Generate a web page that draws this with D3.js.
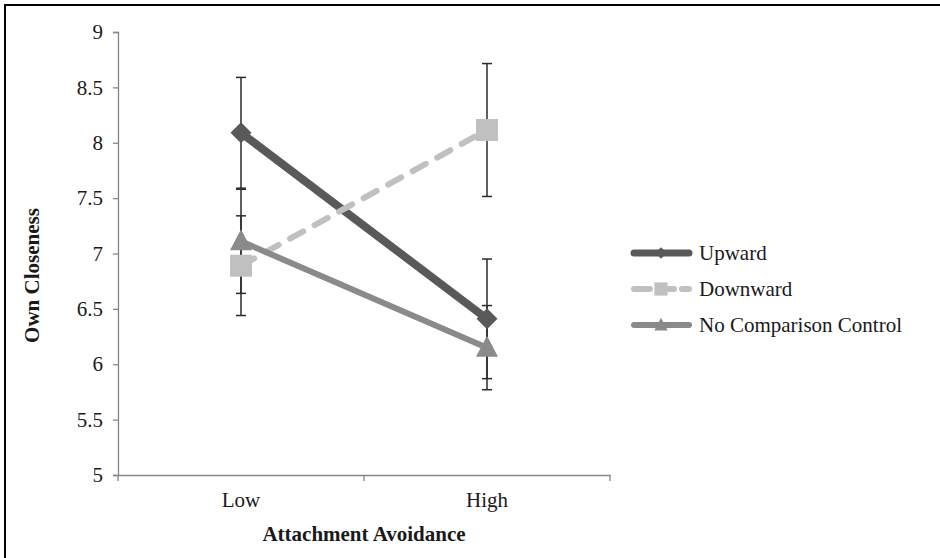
<!DOCTYPE html>
<html>
<head>
<meta charset="utf-8">
<script src="https://cdn.jsdelivr.net/npm/d3@7"></script>
<style>
  body { margin: 0; background: #fff; }
  svg { display: block; }
  svg text { font-family: "Liberation Serif", "Times New Roman", Times, "DejaVu Serif", serif !important; fill: #1a1a1a; }
</style>
</head>
<body>
<svg id="chart" width="940" height="558"></svg>
<script>
// ---- data ----
const categories = ["Low", "High"];
const seriesNames = ["Upward", "Downward", "No Comparison Control"];
const upwardValues = [8.09, 6.41];
const downwardValues = [6.89, 8.115];
const controlValues = [7.11, 6.15];
const upwardErrors = [0.50, 0.54];
const downwardErrors = [0.45, 0.60];
const controlErrors = [0.47, 0.38];
const yTicks = [5, 5.5, 6, 6.5, 7, 7.5, 8, 8.5, 9];
const yTitle = "Own Closeness";
const xTitle = "Attachment Avoidance";

const series = [
  { name: seriesNames[0], values: upwardValues, errors: upwardErrors, color: "#595959", width: 8, dash: null, marker: "diamond" },
  { name: seriesNames[1], values: downwardValues, errors: downwardErrors, color: "#c0c0c0", width: 6, dash: "15,13", marker: "square" },
  { name: seriesNames[2], values: controlValues, errors: controlErrors, color: "#8a8a8a", width: 6, dash: null, marker: "triangle" }
];

const FONT = 21;
const svg = d3.select("#chart");
// frame
svg.append("rect").attr("x", 5).attr("y", 5).attr("width", 940).attr("height", 560)
  .attr("fill", "none").attr("stroke", "#000").attr("stroke-width", 2);

const mLeft = 118, mRight = 610, mTop = 32, mBottom = 475;
const x = d3.scaleBand().domain(categories).range([mLeft, mRight]).padding(0);
const y = d3.scaleLinear().domain([5, 9]).range([mBottom, mTop]);
const cx = c => x(c) + x.bandwidth() / 2;

// y axis
const yAxis = svg.append("g").attr("transform", `translate(${mLeft},0)`)
  .call(d3.axisLeft(y).tickValues(yTicks).tickSize(5).tickPadding(10).tickFormat(d3.format("")));
yAxis.attr("font-family", null).attr("font-size", FONT);
yAxis.select(".domain").attr("stroke", "#868686").attr("stroke-width", 1.3);
yAxis.selectAll(".tick line").attr("stroke", "#868686").attr("stroke-width", 1.3);
yAxis.selectAll("text").attr("fill", "#1a1a1a");

// x axis
const xAxis = svg.append("g").attr("transform", `translate(0,${mBottom})`)
  .call(d3.axisBottom(x).tickSize(0).tickPadding(17));
xAxis.attr("font-family", null).attr("font-size", FONT);
xAxis.select(".domain").attr("stroke", "#868686").attr("stroke-width", 1.3);
xAxis.selectAll("text").attr("fill", "#1a1a1a");
// band boundary ticks
const bounds = [mLeft, x("High"), mRight];
xAxis.selectAll(".bt").data(bounds).enter().append("line")
  .attr("x1", d => d).attr("x2", d => d).attr("y1", 0).attr("y2", 6)
  .attr("stroke", "#868686").attr("stroke-width", 1.3);

// titles
svg.append("text").attr("x", (mLeft + mRight) / 2).attr("y", 541).attr("text-anchor", "middle")
  .attr("font-size", FONT).attr("font-weight", "bold").text(xTitle);
svg.append("text").attr("transform", `translate(39,${(mTop + mBottom) / 2 + 22}) rotate(-90)`)
  .attr("text-anchor", "middle").attr("font-size", FONT).attr("font-weight", "bold").text(yTitle);

// error bars
series.forEach(s => {
  const g = svg.append("g");
  categories.forEach((c, i) => {
    const v = s.values[i], e = s.errors[i], px = cx(c);
    g.append("line").attr("x1", px).attr("x2", px).attr("y1", y(v + e)).attr("y2", y(v - e))
      .attr("stroke", "#2b2b2b").attr("stroke-width", 1.5);
    [v + e, v - e].forEach(t => {
      g.append("line").attr("x1", px - 5).attr("x2", px + 5).attr("y1", y(t)).attr("y2", y(t))
        .attr("stroke", "#2b2b2b").attr("stroke-width", 1.5);
    });
  });
});

function markerPath(type) {
  if (type === "diamond") return "M0,-10.5L10.5,0L0,10.5L-10.5,0Z";
  if (type === "square") return "M-11,-11H11V11H-11Z";
  return "M0,-12L11,9L-11,9Z";
}

const line = d3.line().x((d, i) => cx(categories[i])).y(d => y(d));
series.forEach(s => {
  svg.append("path").datum(s.values).attr("d", line)
    .attr("fill", "none").attr("stroke", s.color).attr("stroke-width", s.width)
    .attr("stroke-linecap", s.dash ? "round" : "butt")
    .attr("stroke-dasharray", s.dash);
  s.values.forEach((v, i) => {
    svg.append("path").attr("d", markerPath(s.marker))
      .attr("transform", `translate(${cx(categories[i])},${y(v)})`)
      .attr("fill", s.color);
  });
});

// legend
const lg = svg.append("g");
series.forEach((s, i) => {
  const ly = 253 + i * 36;
  lg.append("line").attr("x1", 634).attr("x2", 689).attr("y1", ly).attr("y2", ly)
    .attr("stroke", s.color).attr("stroke-width", s.marker === "diamond" ? 7 : 6)
    .attr("stroke-linecap", "round")
    .attr("stroke-dasharray", s.dash ? "16,8" : null);
  const sc = s.marker === "diamond" ? 0.55 : 0.6;
  lg.append("path").attr("d", markerPath(s.marker))
    .attr("transform", `translate(661,${ly}) scale(${sc})`).attr("fill", s.color);
  lg.append("text").attr("x", 699).attr("y", ly).attr("dy", "0.35em")
    .attr("font-size", FONT).text(s.name);
});
</script>
</body>
</html>
